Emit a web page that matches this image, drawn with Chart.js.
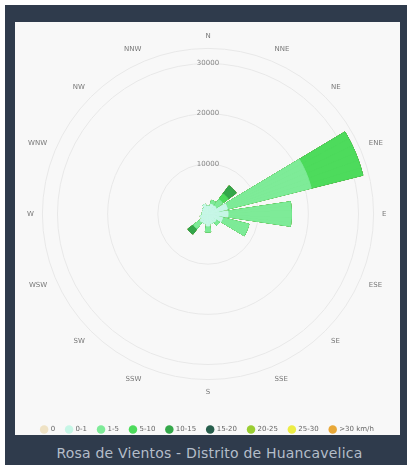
<!DOCTYPE html>
<html lang="es">
<head>
  <meta charset="UTF-8">
  <title>Rosa de Vientos - Distrito de Huancavelica</title>
  <style>
    body {
      margin: 0;
      background: #fff;
      font-family: 'DejaVu Sans', sans-serif;
    }
    .frame {
      position: absolute;
      left: 5px;
      top: 5px;
      width: 402px;
      height: 460px;
      background: #2f3b4c;
    }
    .panel {
      position: absolute;
      left: 10px;
      top: 17px;
      width: 385px;
      height: 413px;
      background: #f8f8f8;
    }
    .plot {
      position: absolute;
      left: 10px;
      top: 9px;
      width: 385px;
      height: 429px;
    }
    .caption {
      position: absolute;
      left: 0;
      right: 0;
      top: 440px;
      padding-left: 7px;
      line-height: 16px;
      text-align: center;
      color: #b4bdc9;
      font-size: 14px;
      letter-spacing: 0.2px;
    }
  </style>
  <script src="https://cdn.jsdelivr.net/npm/chart.js"></script>
</head>
<body>
  <div class="frame">
    <div class="panel"></div>
    <div class="plot"><canvas id="rose"></canvas></div>
    <div class="caption">Rosa de Vientos - Distrito de Huancavelica</div>
  </div>

  <script>
    // direcciones (16 rumbos)
    const directions = ['N', 'NNE', 'NE', 'ENE', 'E', 'ESE', 'SE', 'SSE',
                        'S', 'SSW', 'SW', 'WSW', 'W', 'WNW', 'NW', 'NNW'];

    // frecuencias por rango de velocidad (mismo orden que directions)
    const calm    = [0, 0, 0, 0, 0, 0, 0, 0, 0, 0, 0, 0, 0, 0, 0, 0];
    const v0to1   = [1600, 2000, 2000, 4000, 4000, 3000, 2000, 2000, 2400, 2000, 2000, 1600, 1200, 1200, 1400, 2000];
    const v1to5   = [0, 800, 1600, 17200, 12600, 5400, 800, 0, 1200, 0, 1600, 0, 0, 0, 0, 0];
    const v5to10  = [0, 0, 1400, 10600, 0, 0, 0, 0, 0, 0, 0, 0, 0, 0, 0, 0];
    const v10to15 = [0, 0, 2000, 0, 0, 0, 0, 0, 0, 0, 1400, 0, 0, 0, 0, 0];
    const v15to20 = [0, 0, 0, 0, 0, 0, 0, 0, 0, 0, 0, 0, 0, 0, 0, 0];
    const v20to25 = [0, 0, 0, 0, 0, 0, 0, 0, 0, 0, 0, 0, 0, 0, 0, 0];
    const v25to30 = [0, 0, 0, 0, 0, 0, 0, 0, 0, 0, 0, 0, 0, 0, 0, 0];
    const over30  = [0, 0, 0, 0, 0, 0, 0, 0, 0, 0, 0, 0, 0, 0, 0, 0];

    // radial axis
    const radialTicks = [10000, 20000, 30000];
    const radialMax = 33000;

    const rangeLabels = ['0', '0-1', '1-5', '5-10', '10-15', '15-20', '20-25', '25-30', '>30 km/h'];
    const rangeColors = ['#efe2c4', '#c6f6e6', '#7eeb98', '#4ddb5c', '#34a84a', '#275e4c', '#9acd32', '#ecec45', '#e8a838'];
    const series = [calm, v0to1, v1to5, v5to10, v10to15, v15to20, v20to25, v25to30, over30];

    // split each 22.5deg sector into 8 thin slots: 6 filled around the
    // direction, 2 left empty so the wedges get a gap between them
    const SLOTS = 8;
    const slotOwner = [];
    for (let j = 0; j < directions.length * SLOTS; j++) {
      const s = j % SLOTS;
      const d = Math.floor(j / SLOTS);
      slotOwner.push(s <= 2 ? d : s >= 5 ? (d + 1) % directions.length : -1);
    }
    const slotLabels = slotOwner.map((d, j) => (j % SLOTS === 0 ? directions[d] : ''));

    // stack by drawing cumulative totals, smallest on top
    const running = directions.map(() => 0);
    const datasets = series.map((values, i) => {
      values.forEach((v, d) => { running[d] += v; });
      const totals = running.slice();
      return {
        label: rangeLabels[i],
        data: slotOwner.map(d => (d < 0 ? 0 : totals[d])),
        backgroundColor: rangeColors[i],
        borderColor: rangeColors[i],
        borderWidth: 1
      };
    });

    new Chart(document.getElementById('rose'), {
      type: 'polarArea',
      data: { labels: slotLabels, datasets: datasets },
      options: {
        responsive: true,
        maintainAspectRatio: false,
        animation: false,
        layout: { padding: { left: 11, right: 11, top: 0, bottom: 0 } },
        scales: {
          r: {
            startAngle: 0,
            min: 0,
            max: radialMax,
            afterBuildTicks: scale => {
              scale.ticks = [0, ...radialTicks, radialMax].map(v => ({ value: v }));
            },
            ticks: {
              display: true,
              z: 1,
              showLabelBackdrop: false,
              color: '#888',
              font: { size: 7, family: 'DejaVu Sans' },
              callback: v => (radialTicks.includes(v) ? String(v) : '')
            },
            grid: { color: '#e8e8e8', circular: true },
            angleLines: { display: false },
            pointLabels: {
              display: true,
              centerPointLabels: false,
              padding: 3,
              color: '#777',
              font: { size: 7, family: 'DejaVu Sans' }
            }
          }
        },
        plugins: {
          tooltip: { enabled: false },
          legend: {
            position: 'bottom',
            labels: {
              usePointStyle: true,
              pointStyle: 'circle',
              boxWidth: 6,
              boxHeight: 6,
              padding: 11,
              color: '#666',
              font: { size: 7, family: 'DejaVu Sans' },
              generateLabels: chart => chart.data.datasets.map((ds, i) => ({
                text: ds.label,
                fillStyle: ds.backgroundColor,
                strokeStyle: ds.backgroundColor,
                lineWidth: 0,
                pointStyle: 'circle',
                hidden: false,
                datasetIndex: i,
                fontColor: '#666'
              }))
            }
          }
        }
      }
    });
  </script>
</body>
</html>
